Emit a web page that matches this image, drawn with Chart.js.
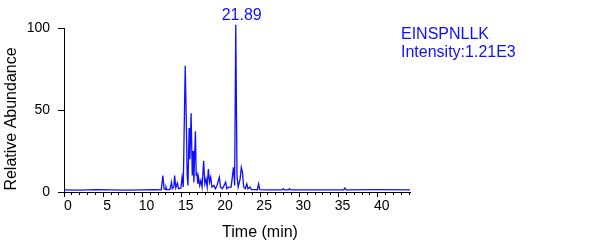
<!DOCTYPE html>
<html lang="en">
<head>
<meta charset="UTF-8">
<title>EINSPNLLK chromatogram</title>
<script src="https://cdn.jsdelivr.net/npm/chart.js"></script>
<style>
  html, body { margin: 0; padding: 0; background: #fff; }
  #wrap { width: 615px; height: 248px; }
</style>
</head>
<body>
<div id="wrap"><canvas id="chrom" width="615" height="248"></canvas></div>
<script>
// retention time (min) and relative abundance
const tiempos = [0, 2, 4, 6, 8, 10, 11.5, 12.4, 12.6, 12.75, 12.9, 13.0, 13.1, 13.5, 13.7, 13.8,
  14.0, 14.1, 14.25, 14.45, 14.6, 14.9, 15.05, 15.2, 15.45, 15.6, 15.7, 15.8, 15.95, 16.05,
  16.2, 16.35, 16.45, 16.55, 16.75, 16.85, 16.95, 17.05, 17.15, 17.3, 17.45, 17.6, 17.8,
  17.95, 18.1, 18.25, 18.4, 18.55, 18.7, 18.85, 19.1, 19.3, 19.5, 19.8, 19.95, 20.2, 20.6,
  20.75, 21.0, 21.3, 21.6, 21.75, 21.89, 22.05, 22.2, 22.45, 22.6, 22.75, 22.9, 23.1, 23.3,
  23.45, 23.7, 23.9, 24.3, 24.65, 24.8, 24.95, 26, 27.8, 27.95, 28.1, 28.6, 28.75, 28.9,
  32, 35.65, 35.8, 35.95, 40, 44.1];
const abundancia = [1.3, 1.2, 1.4, 1.3, 1.2, 1.3, 1.4, 1.3, 10, 2, 1.5, 3, 1.5, 1.5, 6, 2,
  3, 10, 2.5, 5.5, 2, 2.5, 9, 3, 77, 40, 10, 4, 39, 20,
  48, 10, 25, 6, 37, 10, 12, 5, 9, 4, 7, 3, 19,
  5, 8, 3, 14, 6, 9, 3, 4, 2, 4, 9, 3, 2, 6,
  2, 3, 3, 15, 4, 102, 10, 3, 8, 15, 12, 3, 2, 5,
  2, 3, 1.5, 1.5, 1.4, 5, 1.5, 1.3, 1.3, 2, 1.3, 1.3, 2, 1.3,
  1.3, 1.3, 2.5, 1.3, 1.4, 1.3];
const ticksY = [0, 50, 100];
const picoTiempo = 21.89;
const picoValor = 102;
const nombre = 'EINSPNLLK';
const intensidad = 'Intensity:1.21E3';

const puntos = tiempos.map((t, i) => ({ x: t, y: abundancia[i] }));
const fuente = '"Liberation Sans", Arial, sans-serif';
const azul = '#1010ff';

// titulos y anotaciones dibujados a mano
const textos = {
  id: 'textos',
  afterDraw(chart) {
    const c = chart.ctx;
    const sx = chart.scales.x, sy = chart.scales.y;
    c.save();
    c.textBaseline = 'middle';
    c.font = '16px ' + fuente;
    c.fillStyle = '#000';
    c.textAlign = 'center';
    c.fillText('Time (min)', 260, 233);
    c.save();
    c.translate(12, 119);
    c.rotate(-Math.PI / 2);
    c.fillText('Relative Abundance', 0, 0);
    c.restore();
    c.fillStyle = azul;
    c.fillText(String(picoTiempo), sx.getPixelForValue(picoTiempo) + 6, sy.getPixelForValue(picoValor) - 9);
    c.textAlign = 'left';
    c.fillText(nombre, sx.right - 9, 35);
    c.fillText(intensidad, sx.right - 9, 53);
    c.restore();
  }
};

new Chart(document.getElementById('chrom'), {
  type: 'line',
  data: {
    datasets: [{
      data: puntos,
      borderColor: azul,
      borderWidth: 1.3,
      pointRadius: 0,
      tension: 0,
      fill: false,
      clip: false
    }]
  },
  options: {
    responsive: false,
    animation: false,
    events: [],
    layout: { padding: { top: 28, right: 205, left: 0, bottom: 0 } },
    plugins: { legend: { display: false }, tooltip: { enabled: false } },
    scales: {
      x: {
        type: 'linear',
        min: 0, max: 44.1,
        weight: 1,
        afterFit: s => { s.height = 56; },
        grid: { drawOnChartArea: false, tickLength: 5, color: '#000' },
        border: { color: '#000', width: 1 },
        ticks: {
          stepSize: 5, includeBounds: false, padding: 1, labelOffset: 4,
          color: '#000', font: { family: fuente, size: 14 }, maxRotation: 0
        }
      },
      x2: {
        type: 'linear',
        position: 'bottom',
        min: 0, max: 44.1,
        weight: 0,
        afterFit: s => { s.height = 0; },
        grid: { drawOnChartArea: false, tickLength: 3, color: '#000' },
        border: { display: false },
        ticks: { stepSize: 1, includeBounds: false, display: false }
      },
      y: {
        min: 0, max: 100,
        afterFit: s => { s.width = 64; },
        grid: { drawOnChartArea: false, tickLength: 6, color: '#000' },
        border: { color: '#000', width: 1 },
        ticks: {
          stepSize: 50, padding: 8,
          color: '#000', font: { family: fuente, size: 14 }
        }
      }
    }
  },
  plugins: [textos]
});
</script>
</body>
</html>
